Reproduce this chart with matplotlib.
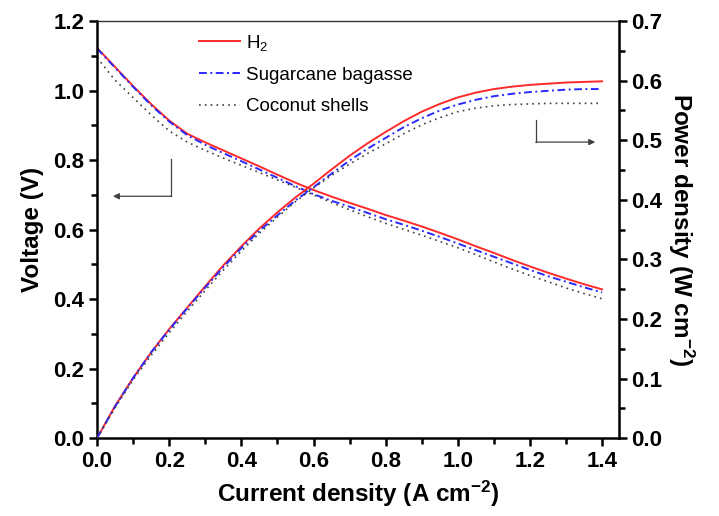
import matplotlib
matplotlib.use("Agg")
import matplotlib.pyplot as plt
from matplotlib.ticker import MultipleLocator

plt.rcParams["font.family"] = ["Liberation Sans", "DejaVu Sans"]
plt.rcParams["mathtext.fontset"] = "custom"
plt.rcParams["mathtext.rm"] = "Liberation Sans"
plt.rcParams["mathtext.bf"] = "Liberation Sans:bold"
plt.rcParams["mathtext.default"] = "regular"

# current density (A cm-2)
current = [0.00, 0.05, 0.10, 0.15, 0.20, 0.25, 0.30, 0.35, 0.40, 0.45,
           0.50, 0.55, 0.60, 0.65, 0.70, 0.75, 0.80, 0.85, 0.90, 0.95,
           1.00, 1.05, 1.10, 1.15, 1.20, 1.25, 1.30, 1.35, 1.40]

# voltage (V)
v_h2 = [1.123, 1.068, 1.013, 0.961, 0.914, 0.876, 0.851, 0.828, 0.805, 0.782,
        0.758, 0.735, 0.714, 0.695, 0.677, 0.660, 0.642, 0.626, 0.609, 0.591,
        0.572, 0.552, 0.533, 0.513, 0.494, 0.476, 0.459, 0.443, 0.428]
v_sugar = [1.121, 1.066, 1.011, 0.958, 0.911, 0.872, 0.844, 0.820, 0.797, 0.773,
           0.749, 0.725, 0.702, 0.683, 0.666, 0.648, 0.630, 0.614, 0.597, 0.579,
           0.560, 0.541, 0.522, 0.503, 0.484, 0.466, 0.450, 0.434, 0.419]
v_coco = [1.095, 1.030, 0.980, 0.930, 0.884, 0.852, 0.828, 0.806, 0.785, 0.764,
          0.743, 0.722, 0.700, 0.678, 0.657, 0.637, 0.618, 0.601, 0.584, 0.566,
          0.548, 0.528, 0.507, 0.487, 0.468, 0.450, 0.432, 0.416, 0.401]

# power density (W cm-2)
p_h2 = [0.000, 0.054, 0.101, 0.144, 0.183, 0.219, 0.255, 0.290, 0.322, 0.352,
        0.379, 0.404, 0.427, 0.451, 0.474, 0.495, 0.514, 0.532, 0.548, 0.561,
        0.572, 0.580, 0.586, 0.590, 0.593, 0.595, 0.597, 0.598, 0.599]
p_sugar = [0.000, 0.053, 0.101, 0.144, 0.182, 0.218, 0.253, 0.287, 0.319, 0.348,
           0.374, 0.399, 0.421, 0.444, 0.466, 0.486, 0.504, 0.522, 0.537, 0.550,
           0.560, 0.568, 0.574, 0.578, 0.581, 0.583, 0.585, 0.586, 0.586]
p_coco = [0.000, 0.051, 0.098, 0.139, 0.177, 0.213, 0.248, 0.282, 0.314, 0.344,
          0.371, 0.397, 0.420, 0.441, 0.460, 0.478, 0.494, 0.511, 0.526, 0.538,
          0.548, 0.554, 0.558, 0.560, 0.561, 0.562, 0.562, 0.562, 0.562]

labels = ["H$_2$", "Sugarcane bagasse", "Coconut shells"]

red = "#ff2a2a"
blue = "#2a2aff"
grey = "#404040"
dashdot = (0, (4, 1.8, 1, 1.8))
dots = (0, (1, 2.5))

fig = plt.figure(figsize=(7.19, 5.16), dpi=100)
ax = fig.add_axes([0.135, 0.151, 0.726, 0.808])
ax2 = ax.twinx()

ax.plot(current, v_h2, color=red, lw=1.4, label=labels[0])
ax.plot(current, v_sugar, color=blue, lw=1.4, ls=dashdot, label=labels[1])
ax.plot(current, v_coco, color=grey, lw=1.2, ls=dots, label=labels[2])

ax2.plot(current, p_h2, color=red, lw=1.4)
ax2.plot(current, p_sugar, color=blue, lw=1.4, ls=dashdot)
ax2.plot(current, p_coco, color=grey, lw=1.2, ls=dots)

ax.set_xlim(0, 1.447)
ax.set_ylim(0, 1.2)
ax2.set_ylim(0, 0.7)

ax.xaxis.set_major_locator(MultipleLocator(0.2))
ax.xaxis.set_minor_locator(MultipleLocator(0.1))
ax.yaxis.set_major_locator(MultipleLocator(0.2))
ax.yaxis.set_minor_locator(MultipleLocator(0.1))
ax2.yaxis.set_major_locator(MultipleLocator(0.1))
ax2.yaxis.set_minor_locator(MultipleLocator(0.05))
ax.xaxis.set_major_formatter(lambda v, p: f"{v:.1f}")
ax.yaxis.set_major_formatter(lambda v, p: f"{v:.1f}")
ax2.yaxis.set_major_formatter(lambda v, p: f"{v:.1f}")

for a in (ax, ax2):
    for s in a.spines.values():
        s.set_linewidth(1.8)
        s.set_color("black")
    a.tick_params(which="major", direction="out", length=6, width=1.8,
                  labelsize=16, pad=3)
    a.tick_params(which="minor", direction="out", length=4, width=1.8)
    for t in a.get_xticklabels() + a.get_yticklabels():
        t.set_fontweight("bold")

ax.spines["right"].set_visible(False)
ax.spines["top"].set_linewidth(1.0)
ax.spines["top"].set_color("#333333")
ax2.spines["left"].set_visible(False)
ax2.spines["bottom"].set_visible(False)
ax2.spines["top"].set_visible(False)
ax.tick_params(top=False, right=False)

ax.set_xlabel(r"Current density (A cm$^{\mathbf{-2}}$)", fontsize=17.5,
              fontweight="bold", labelpad=5)
ax.set_ylabel("Voltage (V)", fontsize=17.5, fontweight="bold", labelpad=7)
ax2.set_ylabel(r"Power density (W cm$^{\mathbf{-2}}$)", fontsize=17.5,
               fontweight="bold", rotation=-90, labelpad=24)

ax.legend(loc="upper left", bbox_to_anchor=(0.195, 0.972), frameon=False,
          fontsize=13.5, handlelength=2.2, handletextpad=0.3,
          labelspacing=0.75, borderpad=0, borderaxespad=0)

# axis-pointer arrows
ax.plot([0.205, 0.205], [0.803, 0.696], color=grey, lw=0.9)
ax.annotate("", xy=(0.044, 0.696), xytext=(0.206, 0.696),
            arrowprops=dict(arrowstyle="-|>", color=grey, lw=0.9,
                            mutation_scale=9, shrinkA=0, shrinkB=0))
ax.plot([1.217, 1.217], [0.915, 0.852], color=grey, lw=0.9)
ax.annotate("", xy=(1.381, 0.852), xytext=(1.216, 0.852),
            arrowprops=dict(arrowstyle="-|>", color=grey, lw=0.9,
                            mutation_scale=9, shrinkA=0, shrinkB=0))

fig.savefig("out.png", dpi=100)
